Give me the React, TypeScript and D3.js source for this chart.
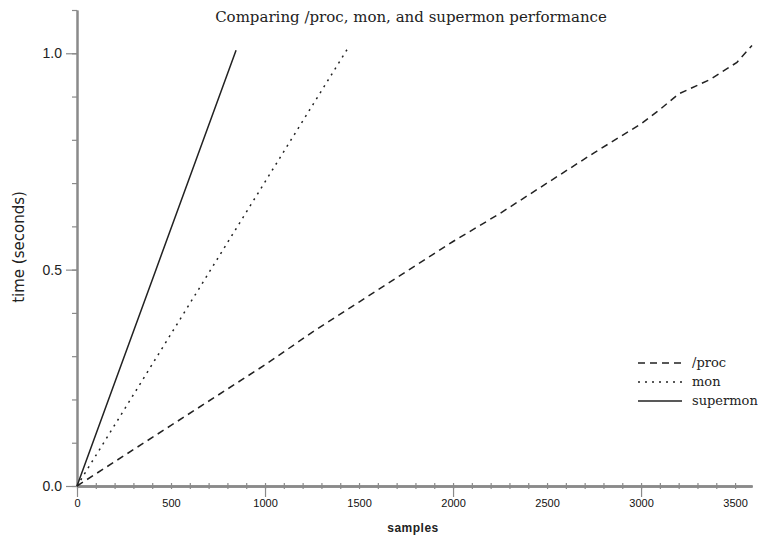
import { useRef, useEffect } from "react";
import * as d3 from "d3";

const procSamples = [0, 250, 500, 750, 1000, 1250, 1500, 1750, 2000, 2250, 2500, 2750, 3000, 3100, 3200, 3370, 3510, 3590];
const procTime = [0, 0.07, 0.14, 0.21, 0.28, 0.355, 0.425, 0.495, 0.565, 0.63, 0.7, 0.77, 0.837, 0.87, 0.906, 0.94, 0.979, 1.018];
const monSamples = [0, 360, 720, 1080, 1447];
const monTime = [0, 0.253, 0.506, 0.759, 1.016];
const superSamples = [0, 210, 420, 630, 846];
const superTime = [0, 0.25, 0.5, 0.75, 1.007];

const seriesNames = ["/proc", "mon", "supermon"];
const dashes = ["7,5", "2,5", null];

const xLabelTicks = [0, 500, 1000, 1500, 2000, 2500, 3000, 3500];
const xMajorTicks = [0, 1000, 2000, 3000];
const yLabelTicks = [0, 0.5, 1.0];

const INK = "#222";
const AXIS = "#8a8a8a";

export default function App() {
  const svgRef = useRef<SVGSVGElement>(null);

  useEffect(() => {
    if (!svgRef.current) return;
    const svg = d3.select(svgRef.current);
    svg.selectAll("*").remove();

    const width = 758;
    const height = 538;
    const x = d3.scaleLinear().domain([0, 3590]).range([77, 752]);
    const y = d3.scaleLinear().domain([0, 1.1]).range([486, 10]);

    svg.append("rect").attr("width", width).attr("height", height).attr("fill", "#fff");

    // y axis
    const yMinor = d3.range(0, 12).map((i) => i / 10);
    svg.append("g")
      .attr("transform", "translate(77,0)")
      .call(d3.axisLeft(y).tickValues(yMinor).tickSize(5).tickFormat(() => "").tickSizeOuter(0));
    svg.append("g")
      .attr("transform", "translate(77,0)")
      .call(d3.axisLeft(y).tickValues(yLabelTicks).tickSize(11).tickPadding(4).tickFormat(d3.format(".1f")).tickSizeOuter(0))
      .selectAll("text")
      .attr("font-family", "'Liberation Sans', Arial, sans-serif")
      .attr("font-size", 14)
      .attr("fill", INK);

    // x axis
    const xMinor = d3.range(0, 3600, 100);
    svg.append("g")
      .attr("transform", "translate(0,486)")
      .call(d3.axisBottom(x).tickValues(xMinor).tickSize(3).tickFormat(() => "").tickSizeOuter(0));
    svg.append("g")
      .attr("transform", "translate(0,486)")
      .call(d3.axisTop(x).tickValues(xMinor).tickSize(3).tickFormat(() => "").tickSizeOuter(0));
    svg.append("g")
      .attr("transform", "translate(0,486)")
      .call(d3.axisBottom(x).tickValues(xMajorTicks).tickSize(11).tickFormat(() => "").tickSizeOuter(0));
    svg.append("g")
      .attr("transform", "translate(0,486)")
      .call(d3.axisBottom(x).tickValues(xLabelTicks).tickSize(0).tickPadding(13).tickFormat(d3.format("d")).tickSizeOuter(0))
      .selectAll("text")
      .attr("font-family", "'Liberation Sans', Arial, sans-serif")
      .attr("font-size", 11)
      .attr("fill", "#111");

    svg.selectAll(".domain").attr("stroke", AXIS).attr("stroke-width", 2);
    svg.selectAll(".tick line").attr("stroke", AXIS).attr("stroke-width", 1.2);

    // lines
    const line = d3.line<[number, number]>().x((d) => x(d[0])).y((d) => y(d[1]));
    const series: [number, number][][] = [
      procSamples.map((s, i) => [s, procTime[i]]),
      monSamples.map((s, i) => [s, monTime[i]]),
      superSamples.map((s, i) => [s, superTime[i]]),
    ];
    series.forEach((pts, i) => {
      svg.append("path")
        .attr("d", line(pts)!)
        .attr("fill", "none")
        .attr("stroke", INK)
        .attr("stroke-width", 1.5)
        .attr("stroke-dasharray", dashes[i]);
    });

    // title and axis labels
    svg.append("text")
      .attr("x", 411)
      .attr("y", 22)
      .attr("text-anchor", "middle")
      .attr("font-family", "'DejaVu Serif', serif")
      .attr("font-size", 15)
      .attr("fill", INK)
      .text("Comparing /proc, mon, and supermon performance");

    svg.append("text")
      .attr("transform", "translate(24,247) rotate(-90)")
      .attr("text-anchor", "middle")
      .attr("font-family", "'DejaVu Sans', sans-serif")
      .attr("font-size", 15)
      .attr("fill", INK)
      .text("time (seconds)");

    svg.append("text")
      .attr("x", 413)
      .attr("y", 532)
      .attr("text-anchor", "middle")
      .attr("font-family", "'Liberation Sans', Arial, sans-serif")
      .attr("font-weight", "bold")
      .attr("font-size", 12)
      .attr("letter-spacing", 0.5)
      .attr("fill", INK)
      .text("samples");

    // legend
    const legend = svg.append("g").attr("transform", "translate(638,363)");
    seriesNames.forEach((name, i) => {
      const row = legend.append("g").attr("transform", `translate(0,${i * 19})`);
      row.append("line")
        .attr("x1", 0).attr("x2", 44)
        .attr("stroke", INK)
        .attr("stroke-width", 1.5)
        .attr("stroke-dasharray", dashes[i]);
      row.append("text")
        .attr("x", 54)
        .attr("y", 4)
        .attr("font-family", "'DejaVu Serif', serif")
        .attr("font-size", 13)
        .attr("fill", INK)
        .text(name);
    });
  }, []);

  return (
    <svg
      ref={svgRef}
      width={758}
      height={538}
      style={{ position: "absolute", left: 0, top: 0, display: "block" }}
    />
  );
}
